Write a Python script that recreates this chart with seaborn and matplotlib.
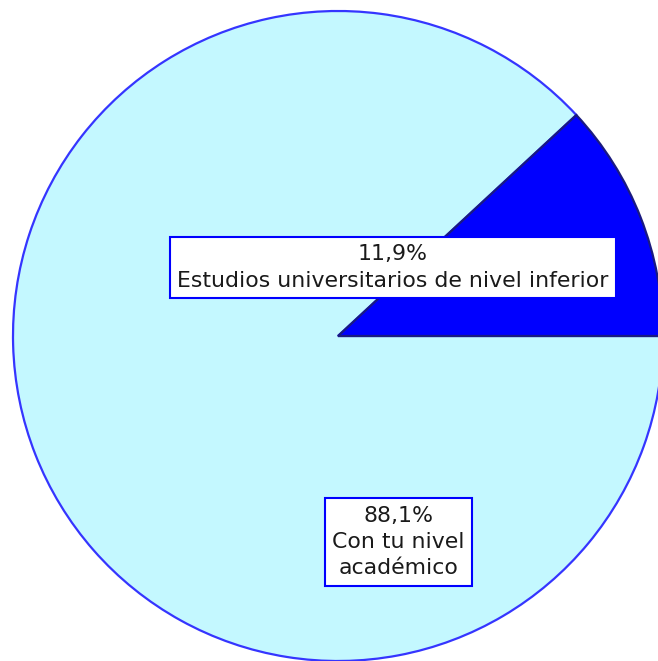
import matplotlib
matplotlib.use("Agg")
import matplotlib.pyplot as plt
import seaborn as sns

# data
categories = ["Estudios universitarios de nivel inferior", "Con tu nivel\nacadémico"]
shares = [11.9, 88.1]
slice_colors = ["#0000FF", "#C4F8FF"]

sns.set_theme(style="white")
plt.rcParams["font.family"] = ["DejaVu Sans"]

fig = plt.figure(figsize=(6.58, 6.61), dpi=100)
# circle centre at (338, 336) px from top-left, radius 325 px
ax = fig.add_axes([13 / 658, 0 / 661, 650 / 658, 650 / 661])

wedges, _ = ax.pie(shares, colors=slice_colors, startangle=0, counterclock=True,
                   radius=1, wedgeprops=dict(edgecolor="#3535ff", linewidth=1.6))
wedges[0].set_edgecolor("#1a1a80")
wedges[0].set_zorder(3)
ax.set_xlim(-1, 1)
ax.set_ylim(-1, 1)
ax.set_aspect("equal")
ax.axis("off")

label_pos = [(0.168, 0.211), (0.186, -0.634)]
for cat, val, (x, y) in zip(categories, shares, label_pos):
    txt = f"{val:.1f}%".replace(".", ",") + "\n" + cat
    ax.text(x, y, txt, ha="center", va="center", fontsize=15.8, color="#1a1a1a",
            linespacing=1.4, zorder=5,
            bbox=dict(boxstyle="square,pad=0.33", facecolor="white",
                      edgecolor="#0000FF", linewidth=1.5))

fig.savefig("out.png", dpi=100)
